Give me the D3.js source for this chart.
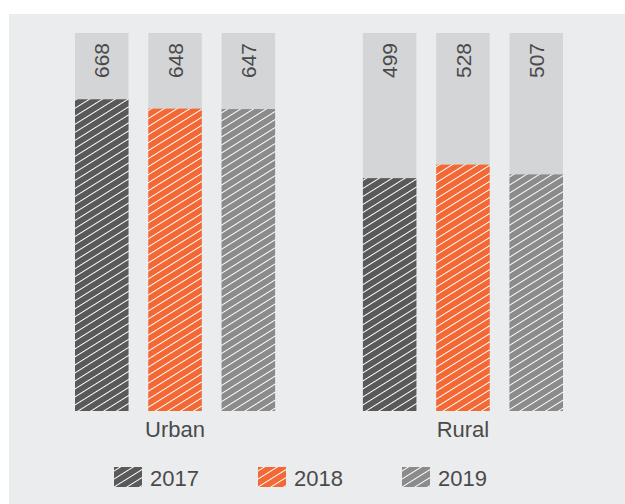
<!DOCTYPE html>
<style>
body { margin: 0; background: #fff; }
text { font-family: "Liberation Sans", Arial, sans-serif; fill: #4a4a4a; }
</style>
<svg width="625" height="504"></svg>
<script src="https://d3js.org/d3.v7.min.js"></script>
<script>

var areas = ["Urban", "Rural"],
    years = ["2017", "2018", "2019"],
    urban = [668, 648, 647],
    rural = [499, 528, 507],
    colors = ["#595959", "#f36936", "#8b8b8b"],
    yMax = 810;

var svg = d3.select("svg");

svg.append("rect")
    .attr("x", 9)
    .attr("y", 14)
    .attr("width", 616)
    .attr("height", 490)
    .attr("fill", "#ebecee");

// hatch patterns, one per year
var defs = svg.append("defs");
years.forEach(function(yr, i) {
  var p = defs.append("pattern")
      .attr("id", "hatch" + yr)
      .attr("patternUnits", "userSpaceOnUse")
      .attr("width", 6.8)
      .attr("height", 6.8)
      .attr("patternTransform", "rotate(-32)");
  p.append("rect").attr("width", 6.8).attr("height", 6.8).attr("fill", colors[i]);
  p.append("line")
      .attr("x1", 0).attr("x2", 6.8)
      .attr("y1", 3.4).attr("y2", 3.4)
      .attr("stroke", "#fff")
      .attr("stroke-width", 1);
});

var data = areas.map(function(a, i) {
  var vals = i === 0 ? urban : rural;
  return { area: a, values: years.map(function(yr, j) { return { year: yr, value: vals[j] }; }) };
});

var x0 = d3.scaleBand().domain(areas).range([75, 563]).paddingInner(0.305);
var x1 = d3.scaleBand().domain(years).range([0, x0.bandwidth()]).paddingInner(0.27);
var y = d3.scaleLinear().domain([0, yMax]).range([411, 33]);

var group = svg.append("g")
  .selectAll("g")
  .data(data)
  .enter().append("g")
    .attr("transform", function(d) { return "translate(" + x0(d.area) + ",0)"; });

var bar = group.selectAll("g")
  .data(function(d) { return d.values; })
  .enter().append("g");

bar.append("rect")
    .attr("x", function(d) { return x1(d.year); })
    .attr("y", y(yMax))
    .attr("width", x1.bandwidth())
    .attr("height", y(0) - y(yMax))
    .attr("fill", "#d4d5d7");

bar.append("rect")
    .attr("x", function(d) { return x1(d.year); })
    .attr("y", function(d) { return y(d.value); })
    .attr("width", x1.bandwidth())
    .attr("height", function(d) { return y(0) - y(d.value); })
    .attr("fill", function(d) { return "url(#hatch" + d.year + ")"; });

bar.append("text")
    .attr("transform", function(d) {
      return "translate(" + (x1(d.year) + x1.bandwidth() / 2) + "," + (y(yMax) + 10) + ") rotate(-90)";
    })
    .attr("text-anchor", "end")
    .attr("dy", "0.36em")
    .attr("font-size", 21)
    .text(function(d) { return d.value; });

group.append("text")
    .attr("x", x0.bandwidth() / 2)
    .attr("y", 437)
    .attr("text-anchor", "middle")
    .attr("font-size", 22)
    .text(function(d) { return d.area; });

var legend = svg.append("g")
  .selectAll("g")
  .data(years)
  .enter().append("g")
    .attr("transform", function(d, i) { return "translate(" + (114 + i * 144) + ",467)"; });

legend.append("rect")
    .attr("width", 28)
    .attr("height", 20)
    .attr("fill", function(d) { return "url(#hatch" + d + ")"; });

legend.append("text")
    .attr("x", 36)
    .attr("y", 19)
    .attr("font-size", 22)
    .text(function(d) { return d; });

</script>
